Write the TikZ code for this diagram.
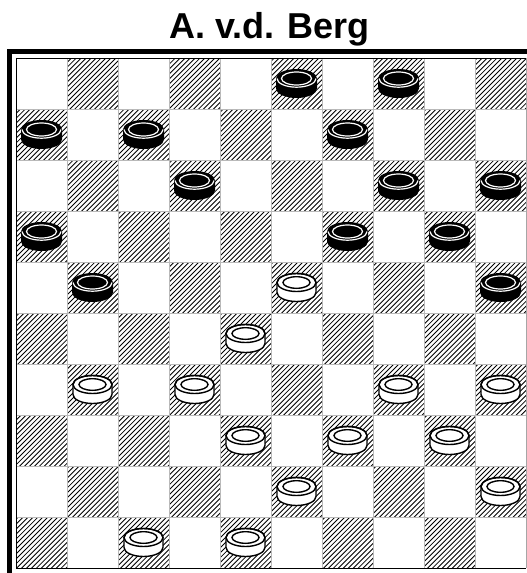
\documentclass[tikz,border=0pt]{standalone}
\usepackage{fontspec}
\setmainfont{Liberation Sans}
\tikzset{
  blackman/.pic={
    \fill (-20.5,-5) -- (-20.5,5) arc[start angle=180,end angle=360,x radius=20.5pt,y radius=9.5pt]
      -- (20.5,-5) arc[start angle=0,end angle=180,x radius=20.5pt,y radius=9.5pt] -- cycle;
    \draw[white,line width=1.2pt] (-19.5,-5) arc[start angle=180,end angle=360,x radius=19.5pt,y radius=8.7pt];
    \draw[white,line width=1.2pt] (0,-5) ellipse[x radius=15pt,y radius=6.5pt];
  },
  whiteman/.pic={
    \filldraw[fill=white,line width=1.4pt] (-19.5,-5) -- (-19.5,5) arc[start angle=180,end angle=360,x radius=19.5pt,y radius=9pt]
      -- (19.5,-5) arc[start angle=0,end angle=180,x radius=19.5pt,y radius=9pt] -- cycle;
    \draw[line width=1.4pt] (0,-5) ellipse[x radius=19.5pt,y radius=9pt];
    \draw[line width=1.4pt] (0,-5) ellipse[x radius=13.5pt,y radius=5.8pt];
  }
}
\begin{document}
\begin{tikzpicture}[x=1pt,y=-1pt]
\useasboundingbox[fill=white] (0,0) rectangle (527,573);
\node[font=\fontsize{36}{43}\selectfont\bfseries,anchor=base,inner sep=0pt] (title) at (269.5,38.5) {A. v.d. Berg};
% outer frame
\draw[line width=5pt] (9.5,573) -- (9.5,51.5) -- (527,51.5);
% hatched squares
\begin{scope}
\clip \foreach \r [evaluate=\r as \s using {1-mod(\r,2)}] in {0,...,9} {
  \foreach \k in {0,...,4} { ({16+51*(2*\k+\s)},{58+51*\r}) rectangle ++(51,51) } };
\foreach \a in {0,...,210}
  \draw[line width=0.85pt] ({16-515+4.95*\a},569) -- ++(511,-511);
\end{scope}
% grid
\foreach \i in {1,...,9} {
  \draw[gray!55,line width=0.8pt] ({16+51*\i},58) -- ++(0,510);
  \draw[gray!55,line width=0.8pt] (16,{58+51*\i}) -- ++(510,0);
}
\draw[gray!70,line width=0.8pt] (526,58) -- (526,568);
\draw[line width=1pt] (526,568) -- (16,568) -- (16,58) -- (526,58);
% black men
\foreach \c/\r in {5/0,7/0,0/1,2/1,6/1,3/2,7/2,9/2,0/3,6/3,8/3,1/4,9/4}
  \pic at ({41.5+51*\c},{83.5+51*\r}) {blackman};
% white men
\foreach \c/\r in {5/4,4/5,1/6,3/6,7/6,9/6,4/7,6/7,8/7,5/8,9/8,2/9,4/9}
  \pic at ({41.5+51*\c},{83.5+51*\r}) {whiteman};
\end{tikzpicture}
\end{document}
